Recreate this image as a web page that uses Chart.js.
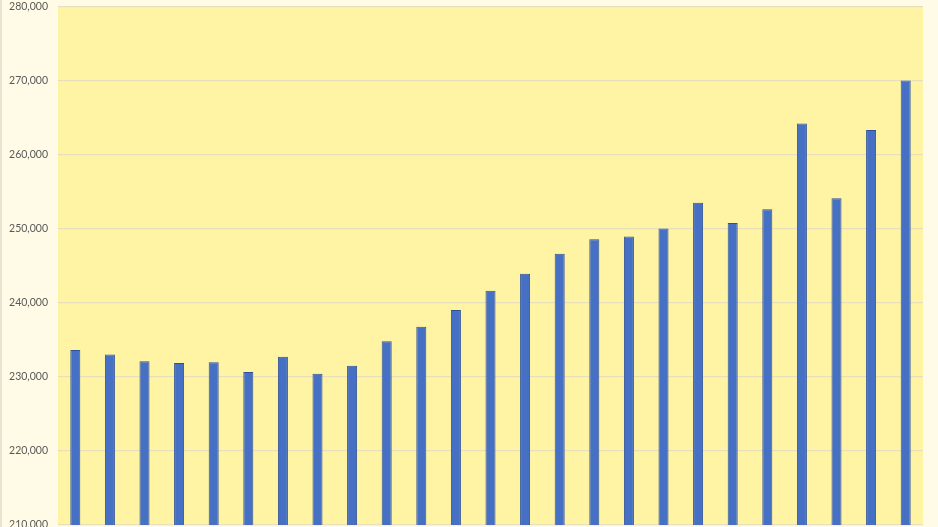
<!DOCTYPE html>
<html>
<head>
<meta charset="utf-8">
<script src="https://cdn.jsdelivr.net/npm/chart.js@4.4.1/dist/chart.umd.min.js"></script>
<style>
  html, body { margin: 0; padding: 0; overflow: hidden; background: #FFFBE6; width: 938px; height: 527px; }
  #wrap { position: relative; width: 938px; height: 570px; margin-top: -10px; }
  canvas { display: block; }
  #edge { position: absolute; left: 0; top: 0; width: 2px; height: 570px; background: #E9E4D2; }
</style>
</head>
<body>
<div id="wrap">
<canvas id="c" width="938" height="570"></canvas>
<div id="edge"></div>
</div>
<script>
const categories = ['1','2','3','4','5','6','7','8','9','10','11','12','13','14','15','16','17','18','19','20','21','22','23','24','25'];
const values = [233600, 233000, 232100, 231850, 231950, 230650, 232700, 230400, 231500, 234800,
                236750, 239000, 241600, 243900, 246600, 248550, 248950, 250000, 253500, 250750,
                252600, 264200, 254100, 263300, 270000];
const yMin = 210000;
const yMax = 280000;
const yStep = 10000;

const plotBg = {
  id: 'plotBg',
  beforeDraw(chart) {
    const { ctx, chartArea: a } = chart;
    ctx.save();
    ctx.fillStyle = '#FFF4A3';
    ctx.fillRect(a.left, a.top, a.right - a.left, a.bottom - a.top);
    ctx.restore();
  }
};

new Chart(document.getElementById('c'), {
  type: 'bar',
  data: {
    labels: categories,
    datasets: [{
      data: values,
      backgroundColor: '#4670C4',
      borderColor: '#2F519A',
      borderWidth: 1,
      categoryPercentage: 1,
      barPercentage: 0.29
    }]
  },
  options: {
    responsive: false,
    animation: false,
    layout: { padding: { left: 0, right: 15, top: 0, bottom: 35 } },
    plugins: { legend: { display: false }, tooltip: { enabled: false } },
    scales: {
      x: { display: false },
      y: {
        min: yMin, max: yMax,
        afterFit(scale) { scale.width = 58; },
        ticks: {
          stepSize: yStep,
          padding: 10,
          color: '#595959',
          font: { family: 'Lato', size: 10.5 },
          callback: v => v.toLocaleString('en-US')
        },
        grid: { color: '#E8E0BC', lineWidth: 1.2, drawTicks: false },
        border: { display: false }
      }
    }
  },
  plugins: [plotBg]
});
</script>
</body>
</html>
